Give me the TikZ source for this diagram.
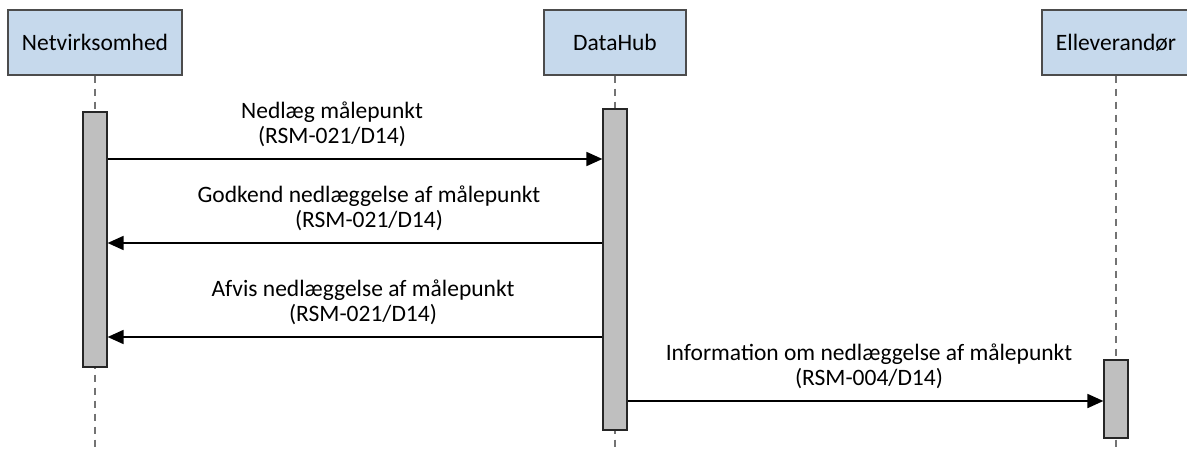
\documentclass[tikz,border=0pt]{standalone}
\usepackage{fontspec}
\setmainfont{Carlito}
\usetikzlibrary{arrows.meta}
\definecolor{actorblue}{RGB}{198,217,236}
\definecolor{bargray}{RGB}{191,191,191}
\begin{document}
\begin{tikzpicture}[x=1pt,y=-1pt,
    actor/.style={draw=black!70, fill=actorblue, line width=1.2pt, minimum height=65pt, inner sep=0pt, font=\fontsize{23.5}{25}\selectfont},
    actbar/.style={draw=black!85, fill=bargray, line width=1.2pt, minimum width=24pt, inner sep=0pt},
    lifeline/.style={black!55, line width=1.2pt, dash pattern=on 7pt off 6pt},
    msg/.style={line width=1.8pt, -{Triangle[length=16pt,width=14pt]}},
    msglabel/.style={anchor=south, inner sep=0pt, align=center, font=\fontsize{23.5}{25}\selectfont}]
    \useasboundingbox (0,0) rectangle (1187,452);
    \clip (0,0) rectangle (1187,452);
    \node[actor, minimum width=174pt] (net) at (95,42.5) {Netvirksomhed};
    \node[actor, minimum width=142pt] (hub) at (615,42.5) {DataHub};
    \node[actor, minimum width=148pt] (elev) at (1116,42.5) {Elleverandør};
    \foreach \a in {net,hub,elev}
        \draw[lifeline] (\a.south) -- (\a.south |- 0,452);
    \node[actbar, minimum height=255pt] (netbar) at (95,239.5) {};
    \node[actbar, minimum height=321pt] (hubbar) at (615,269.5) {};
    \node[actbar, minimum height=78pt] (elevbar) at (1116,399) {};
    \coordinate (m1) at (0,159);
    \coordinate (m2) at (0,243);
    \coordinate (m3) at (0,337);
    \coordinate (m4) at (0,401);
    \draw[msg] (netbar.east |- m1) -- (hubbar.west |- m1);
    \draw[msg] (hubbar.west |- m2) -- (netbar.east |- m2);
    \draw[msg] (hubbar.west |- m3) -- (netbar.east |- m3);
    \draw[msg] (hubbar.east |- m4) -- (elevbar.west |- m4);
    \node[msglabel] (t1) at (332,147) {Nedlæg målepunkt\\(RSM-021/D14)};
    \node[msglabel] (t2) at (369,231) {Godkend nedlæggelse af målepunkt\\(RSM-021/D14)};
    \node[msglabel] (t3) at (363,325) {Afvis nedlæggelse af målepunkt\\(RSM-021/D14)};
    \node[msglabel] (t4) at (869,389) {Information om nedlæggelse af målepunkt\\(RSM-004/D14)};
\end{tikzpicture}
\end{document}
